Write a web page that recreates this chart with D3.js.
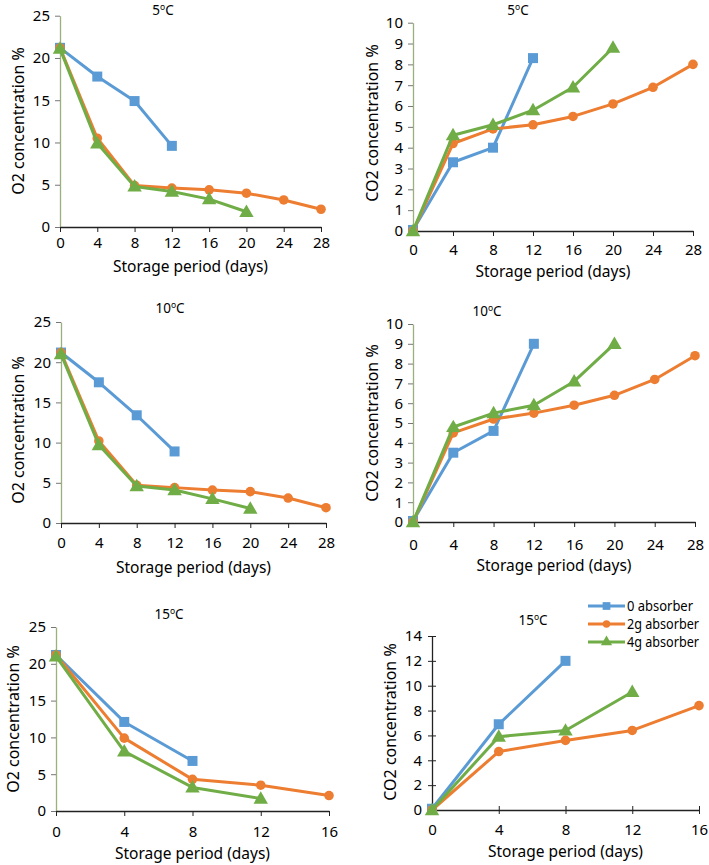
<!DOCTYPE html>
<html><head><meta charset="utf-8">
<script src="https://cdn.jsdelivr.net/npm/d3@7"></script>
<style>
body{margin:0;background:#fff;}
svg{display:block;}
text{font-family:"Noto Sans","Open Sans",sans-serif;fill:#000;}
</style></head>
<body>
<svg id="c" width="709" height="865"></svg>
<script>
// ---------- DATA ----------
const seriesNames = ["0 absorber", "2g absorber", "4g absorber"];
const days = [0, 4, 8, 12, 16, 20, 24, 28];
const xTicks28 = [0, 4, 8, 12, 16, 20, 24, 28];
const xTicks16 = [0, 4, 8, 12, 16];
const yTicksO2 = [0, 5, 10, 15, 20, 25];
const yTicksCO2_10 = [0, 1, 2, 3, 4, 5, 6, 7, 8, 9, 10];
const yTicksCO2_14 = [0, 2, 4, 6, 8, 10, 12, 14];

// O2 5°C
const o2_5_0g = [21.2, 17.8, 14.9, 9.6];
const o2_5_2g = [21.2, 10.5, 4.9, 4.6, 4.4, 4.0, 3.2, 2.1];
const o2_5_4g = [21.1, 9.9, 4.8, 4.2, 3.3, 1.8];
// CO2 5°C
const co2_5_0g = [0.05, 3.3, 4.0, 8.3];
const co2_5_2g = [0, 4.2, 4.9, 5.1, 5.5, 6.1, 6.9, 8.0];
const co2_5_4g = [0, 4.6, 5.1, 5.8, 6.9, 8.8];
// O2 10°C
const o2_10_0g = [21.2, 17.5, 13.4, 8.9];
const o2_10_2g = [21.2, 10.2, 4.7, 4.4, 4.1, 3.9, 3.1, 1.9];
const o2_10_4g = [21.0, 9.7, 4.6, 4.1, 3.0, 1.8];
// CO2 10°C
const co2_10_0g = [0.05, 3.5, 4.6, 9.0];
const co2_10_2g = [0, 4.5, 5.2, 5.5, 5.9, 6.4, 7.2, 8.4];
const co2_10_4g = [0, 4.8, 5.5, 5.9, 7.1, 9.0];
// O2 15°C
const o2_15_0g = [21.2, 12.1, 6.8];
const o2_15_2g = [21.2, 9.9, 4.3, 3.5, 2.1];
const o2_15_4g = [21.0, 8.1, 3.2, 1.7];
// CO2 15°C
const co2_15_0g = [0.1, 6.9, 12.0];
const co2_15_2g = [0, 4.7, 5.6, 6.4, 8.4];
const co2_15_4g = [0, 5.9, 6.4, 9.5];

// ---------- STYLE / LAYOUT ----------
const colors = ["#5B9BD5", "#ED7D31", "#70AD47"];
const shapes = [d3.symbolSquare, d3.symbolCircle, d3.symbolTriangle];
const symSize = [100, 72, 90];

const panels = [
  {temp:"5", ylab:"O2 concentration %", s:[o2_5_0g,o2_5_2g,o2_5_4g], xmax:28, xt:xTicks28, ymax:25, yt:yTicksO2,
   x0:60, x1:321, y0:227, y1:15.7, tx:163, ty:15, tly:248, xly:272, ylx:18, yly:121, cross:false},
  {temp:"5", ylab:"CO2 concentration %", s:[co2_5_0g,co2_5_2g,co2_5_4g], xmax:28, xt:xTicks28, ymax:10, yt:yTicksCO2_10,
   x0:413, x1:693, y0:231, y1:22.7, tx:518, ty:15, tly:255, xly:277, ylx:372, yly:123, cross:false},
  {temp:"10", ylab:"O2 concentration %", s:[o2_10_0g,o2_10_2g,o2_10_4g], xmax:28, xt:xTicks28, ymax:25, yt:yTicksO2,
   x0:61, x1:326, y0:523, y1:322, tx:170, ty:313, tly:548, xly:573, ylx:18, yly:430, cross:false},
  {temp:"10", ylab:"CO2 concentration %", s:[co2_10_0g,co2_10_2g,co2_10_4g], xmax:28, xt:xTicks28, ymax:10, yt:yTicksCO2_10,
   x0:413, x1:695, y0:522, y1:324, tx:487, ty:316, tly:550, xly:571, ylx:372, yly:423, cross:false},
  {temp:"15", ylab:"O2 concentration %", s:[o2_15_0g,o2_15_2g,o2_15_4g], xmax:16, xt:xTicks16, ymax:25, yt:yTicksO2,
   x0:56, x1:329, y0:811, y1:627, tx:169, ty:619, tly:837, xly:859, ylx:13, yly:719, cross:false},
  {temp:"15", ylab:"CO2 concentration %", s:[co2_15_0g,co2_15_2g,co2_15_4g], xmax:16, xt:xTicks16, ymax:14, yt:yTicksCO2_14,
   x0:432, x1:699, y0:810, y1:636, tx:533, ty:625, tly:835, xly:857, ylx:390, yly:722, cross:true}
];

const svg = d3.select("#c");

panels.forEach((p, pi) => {
  const g = svg.append("g");
  const x = d3.scaleLinear().domain([0, p.xmax]).range([p.x0, p.x1]);
  const y = d3.scaleLinear().domain([0, p.ymax]).range([p.y0, p.y1]);

  // y axis
  const ya = g.append("g").attr("transform", `translate(${p.x0},0)`)
    .call(d3.axisLeft(y).tickValues(p.yt).tickSize(p.cross ? 4 : 5).tickSizeOuter(0).tickPadding(p.cross?6:5));
  ya.select(".domain").attr("stroke", p.cross ? "#222" : "#9bb07c").attr("stroke-width", 1.3);
  ya.selectAll(".tick line").attr("stroke", p.cross ? "#222" : "#777");
  if (p.cross) ya.selectAll(".tick line").attr("x1", 4);
  ya.selectAll(".tick text").attr("font-size", 15).attr("font-family", "Noto Sans").attr("fill", "#000");

  // x axis
  const xa = g.append("g").attr("transform", `translate(0,${p.y0})`)
    .call(d3.axisBottom(x).tickValues(p.xt).tickSize(5).tickSizeOuter(0).tickPadding(4));
  xa.select(".domain").attr("stroke", "#222").attr("stroke-width", 1.3);
  xa.selectAll(".tick line").attr("stroke", "#222");
  if (p.cross) xa.selectAll(".tick line").attr("y1", -4).attr("y2", 4);
  xa.selectAll(".tick text").remove();
  xa.selectAll(".tick").append("text").attr("y", p.tly - p.y0).attr("text-anchor","middle")
    .attr("font-size", 15).attr("fill","#000").text(d => d);

  // series
  p.s.forEach((vals, si) => {
    const pts = vals.map((v, i) => [days[i], v]);
    g.append("path").datum(pts)
      .attr("fill", "none").attr("stroke", colors[si]).attr("stroke-width", 3)
      .attr("stroke-linejoin", "round")
      .attr("d", d3.line().x(d => x(d[0])).y(d => y(d[1])));
    g.selectAll(null).data(pts).enter().append("path")
      .attr("transform", d => `translate(${x(d[0])},${y(d[1]) + (si===2?1:0)})`)
      .attr("d", d3.symbol().type(shapes[si]).size(symSize[si]))
      .attr("fill", colors[si]);
  });

  // title
  const t = g.append("text").attr("x", p.tx).attr("y", p.ty).attr("text-anchor","middle").attr("font-size", 13.5);
  t.append("tspan").text(p.temp);
  t.append("tspan").attr("font-size", 8.5).attr("dy", -5).text("o");
  t.append("tspan").attr("dy", 5).text("C");

  // axis labels
  g.append("text").attr("x", (p.x0 + p.x1) / 2).attr("y", p.xly).attr("text-anchor","middle")
    .attr("font-size", 15.5).text("Storage period (days)");
  g.append("text").attr("transform", `translate(${p.ylx},${p.yly}) rotate(-90)`)
    .attr("text-anchor","middle").attr("dy","0.35em").attr("font-size", 16).text(p.ylab);
});

// legend (bottom-right panel)
const leg = svg.append("g");
const legY = [606, 624, 642];
seriesNames.forEach((n, i) => {
  leg.append("line").attr("x1", 588).attr("x2", 625).attr("y1", legY[i]).attr("y2", legY[i])
    .attr("stroke", colors[i]).attr("stroke-width", 3);
  leg.append("path").attr("transform", `translate(606.5,${legY[i]})`)
    .attr("d", d3.symbol().type(shapes[i]).size(symSize[i]*0.6)).attr("fill", colors[i]);
  leg.append("text").attr("x", 627).attr("y", legY[i]).attr("dy","0.35em").attr("font-size", 14)
    .attr("textLength", n.length > 10 ? 72 : 66).attr("lengthAdjust","spacingAndGlyphs").text(n);
});
</script>
</body></html>
